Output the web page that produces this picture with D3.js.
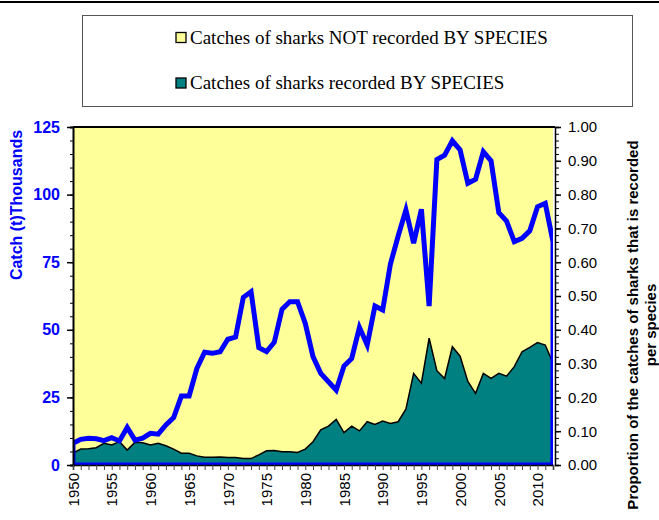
<!DOCTYPE html>
<html><head><meta charset="utf-8">
<script src="https://cdn.jsdelivr.net/npm/d3@7"></script>
<style>body{margin:0;background:#fff}svg{display:block}</style>
</head><body>
<svg id="c" width="659" height="520"></svg>
<script>
const years = d3.range(1950, 2013);
// Total shark catches, thousand tonnes (left axis)
const catchThousands = [8.0,9.5,9.9,9.7,9.0,10.1,8.9,13.9,9.2,9.9,11.7,11.4,14.8,17.5,25.5,25.5,35.7,41.7,41.3,41.9,46.5,47.3,62.0,64.1,43.4,41.9,45.4,57.6,60.4,60.4,52.4,40.1,33.9,30.8,27.7,36.6,39.4,50.9,44.4,58.8,57.3,74.3,84.7,94.3,82.0,94.6,58.8,113.0,114.6,119.9,116.5,104.2,105.7,115.9,112.5,93.3,90.2,82.6,83.8,86.6,95.5,96.8,82.6];
// Proportion of catches recorded by species (right axis)
const propRecorded = [0.035,0.047,0.048,0.051,0.064,0.059,0.069,0.044,0.067,0.066,0.059,0.064,0.057,0.047,0.035,0.035,0.027,0.023,0.023,0.024,0.022,0.022,0.019,0.019,0.030,0.042,0.043,0.039,0.039,0.037,0.047,0.069,0.104,0.115,0.135,0.096,0.115,0.101,0.128,0.120,0.130,0.123,0.128,0.165,0.271,0.242,0.375,0.279,0.256,0.350,0.322,0.247,0.212,0.271,0.256,0.271,0.263,0.291,0.335,0.348,0.362,0.355,0.301];
const leftTicks = [0,25,50,75,100,125];
const rightTicks = [0,0.1,0.2,0.3,0.4,0.5,0.6,0.7,0.8,0.9,1.0];
const xTickYears = [1950,1955,1960,1965,1970,1975,1980,1985,1990,1995,2000,2005,2010];
const legendItems = [
  {label:"Catches of sharks NOT recorded BY SPECIES", color:"#FFFF99"},
  {label:"Catches of sharks recorded BY SPECIES", color:"#008080"}
];

const svg = d3.select("#c");
const L=73, R=553, T=127, B=465;
const x = d3.scaleLinear().domain([1950,2012]).range([L,R]);
const yL = d3.scaleLinear().domain([0,125]).range([B,T]);
const yR = d3.scaleLinear().domain([0,1]).range([B,T]);

// top rule
svg.append("line").attr("x1",0).attr("x2",659).attr("y1",2).attr("y2",2).attr("stroke","#000").attr("stroke-width",2);

// legend
const lg = svg.append("g");
lg.append("rect").attr("x",82.5).attr("y",15.5).attr("width",550).attr("height",91).attr("fill","#fff").attr("stroke","#555").attr("stroke-width",1);
legendItems.forEach((d,i)=>{
  const cy = 37.5 + i*45.5;
  lg.append("rect").attr("x",176).attr("y",cy-5).attr("width",10).attr("height",10).attr("fill",d.color).attr("stroke","#000").attr("stroke-width",1.3);
  lg.append("text").attr("x",190).attr("y",cy+6).attr("font-family","Liberation Serif, serif").attr("font-size",19).attr("fill","#000").text(d.label);
});

// clip
svg.append("clipPath").attr("id","pc").append("rect").attr("x",L).attr("y",T).attr("width",R-L).attr("height",B-T);
const pg = svg.append("g").attr("clip-path","url(#pc)");

const data = years.map((yr,i)=>({yr, c:catchThousands[i], p:propRecorded[i]}));
// not-recorded area (yellow) from recorded share up to 1
pg.append("path").datum(data).attr("fill","#FFFF99")
  .attr("d", d3.area().x(d=>x(d.yr)).y0(d=>yR(d.p)).y1(yR(1)));
// recorded area (teal)
pg.append("path").datum(data).attr("fill","#008080")
  .attr("d", d3.area().x(d=>x(d.yr)).y0(yR(0)).y1(d=>yR(d.p)));
pg.append("path").datum(data).attr("fill","none").attr("stroke","#000").attr("stroke-width",1.5)
  .attr("d", d3.line().x(d=>x(d.yr)).y(d=>yR(d.p)));
// catch line as outlined area
pg.append("path").datum(data).attr("fill","none").attr("stroke","#0000FF").attr("stroke-width",5).attr("stroke-linejoin","miter")
  .attr("d", d3.area().x(d=>x(d.yr)).y0(yL(0)).y1(d=>yL(d.c)));

// frame top
svg.append("line").attr("x1",L).attr("x2",R+2).attr("y1",T).attr("y2",T).attr("stroke","#000").attr("stroke-width",2);

// left axis
const gl = svg.append("g").attr("transform",`translate(${L},0)`);
gl.call(d3.axisLeft(yL).tickValues(d3.range(0,126,5)).tickSize(3).tickFormat(""));
gl.selectAll(".tick line").attr("stroke","#000");
gl.select(".domain").attr("stroke","#000").attr("stroke-width",2);
const gl2 = svg.append("g").attr("transform",`translate(${L},0)`);
gl2.call(d3.axisLeft(yL).tickValues(leftTicks).tickSize(6).tickPadding(7));
gl2.select(".domain").remove();
gl2.selectAll(".tick line").attr("stroke","#000").attr("stroke-width",1.5);
gl2.selectAll("text").attr("font-family","Liberation Sans, Arial, sans-serif").attr("font-size",16).attr("font-weight","bold").attr("fill","#0000FF");

// right axis
const gr = svg.append("g").attr("transform",`translate(${R+2},0)`);
gr.call(d3.axisRight(yR).tickValues(d3.range(0,51).map(i=>i/50)).tickSize(4).tickFormat(""));
gr.select(".domain").attr("stroke","#000").attr("stroke-width",1.5);
gr.selectAll(".tick line").attr("stroke","#000");
const gr2 = svg.append("g").attr("transform",`translate(${R+2},0)`);
gr2.call(d3.axisRight(yR).tickValues(rightTicks).tickSize(6).tickPadding(7).tickFormat(d3.format(".2f")));
gr2.select(".domain").remove();
gr2.selectAll(".tick line").attr("stroke","#000").attr("stroke-width",1.5);
gr2.selectAll("text").attr("font-family","Liberation Sans, Arial, sans-serif").attr("font-size",15).attr("fill","#000");

// bottom axis
const gb = svg.append("g").attr("transform",`translate(0,${B})`);
gb.call(d3.axisBottom(x).tickValues(years).tickSize(5).tickFormat(""));
gb.select(".domain").attr("stroke","#000").attr("stroke-width",1.5);
gb.selectAll(".tick line").attr("stroke","#444");
const gb2 = svg.append("g").attr("transform",`translate(0,${B})`);
gb2.call(d3.axisBottom(x).tickValues(xTickYears).tickSize(0).tickFormat(d3.format("d")));
gb2.select(".domain").remove();
gb2.selectAll("text").attr("font-family","Liberation Sans, Arial, sans-serif").attr("font-size",15).attr("fill","#000")
  .attr("transform","rotate(-90)").attr("text-anchor","end").attr("y",0).attr("x",-8).attr("dy","0.35em");

// axis titles
svg.append("text").attr("transform","translate(22,205) rotate(-90)").attr("text-anchor","middle")
  .attr("font-family","Liberation Sans, Arial, sans-serif").attr("font-weight","bold").attr("font-size",16).attr("fill","#0000FF")
  .text("Catch (t)Thousands");
const rt = svg.append("text").attr("transform","translate(633,325) rotate(-90)").attr("text-anchor","middle")
  .attr("font-family","Liberation Sans, Arial, sans-serif").attr("font-weight","bold").attr("font-size",15).attr("fill","#000");
rt.append("tspan").attr("x",0).attr("y",5).text("Proportion of the catches of sharks that is recorded");
rt.append("tspan").attr("x",0).attr("y",23).text("per species");
</script>
</body></html>
